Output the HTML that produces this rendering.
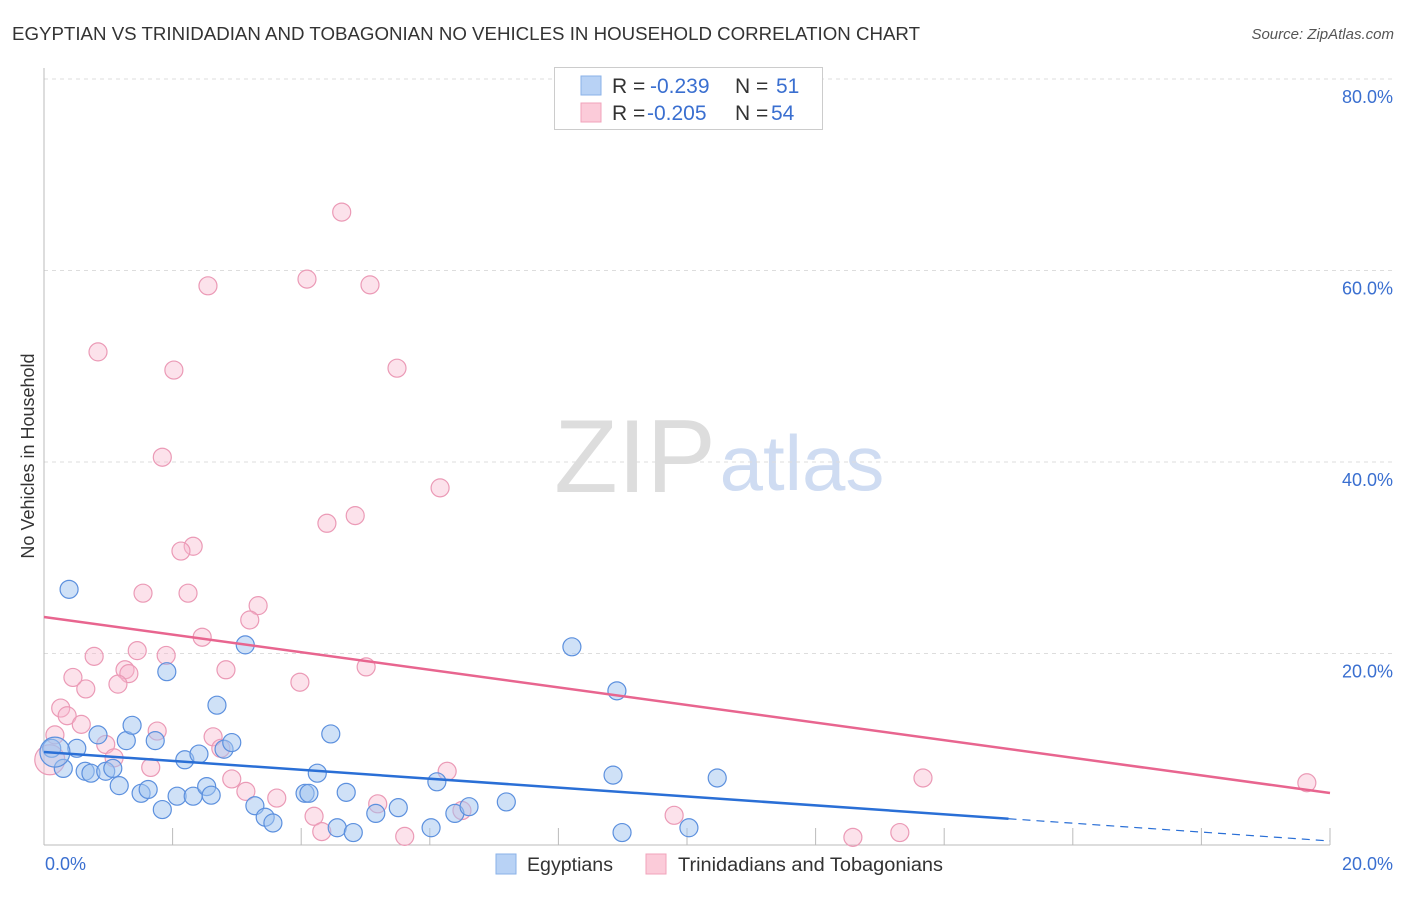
<!DOCTYPE html>
<html><head><meta charset="utf-8"><style>
body{margin:0;background:#fff;font-family:"Liberation Sans",sans-serif}
svg text{font-family:"Liberation Sans",sans-serif}
</style></head><body>
<svg id="chart" width="1406" height="892" xmlns="http://www.w3.org/2000/svg">
<text x="12" y="40" font-size="18" fill="#333" textLength="908" lengthAdjust="spacingAndGlyphs">EGYPTIAN VS TRINIDADIAN AND TOBAGONIAN NO VEHICLES IN HOUSEHOLD CORRELATION CHART</text>
<text x="1394" y="39" font-size="15" fill="#555" font-style="italic" text-anchor="end">Source: ZipAtlas.com</text>
<text x="635" y="492" font-size="104" fill="#ddd" font-family="Liberation Serif" text-anchor="middle">ZIP</text>
<text x="802" y="490" font-size="78" fill="#cfdcf2" text-anchor="middle">atlas</text>
<text transform="translate(34,456) rotate(-90)" font-size="18" fill="#333" text-anchor="middle">No Vehicles in Household</text>
<g id="grid"></g><g id="axes"></g><g id="marks"></g><g id="trends"></g>
<g>
<rect x="554.5" y="67.5" width="268" height="62" fill="#fff" stroke="#ccc"/>
<rect x="581" y="76" width="20" height="19" fill="#b8d2f5" stroke="#8ab2e8"/>
<rect x="581" y="103" width="20" height="19" fill="#fbcbd9" stroke="#f0a3bb"/>
<text y="93" font-size="21"><tspan x="612" fill="#333">R = </tspan><tspan x="650" fill="#3a6fd0">-0.239</tspan><tspan x="735" fill="#333">N = </tspan><tspan x="776" fill="#3a6fd0">51</tspan></text>
<text y="120" font-size="21"><tspan x="612" fill="#333">R = </tspan><tspan x="647" fill="#3a6fd0">-0.205</tspan><tspan x="735" fill="#333">N = </tspan><tspan x="771" fill="#3a6fd0">54</tspan></text>
</g>
<g>
<rect x="496" y="854" width="20" height="20" fill="#b8d2f5" stroke="#8ab2e8"/>
<text x="527" y="871" font-size="19" fill="#333" textLength="86" lengthAdjust="spacingAndGlyphs">Egyptians</text>
<rect x="646" y="854" width="20" height="20" fill="#fbcbd9" stroke="#f0a3bb"/>
<text x="678" y="871" font-size="19" fill="#333" textLength="265" lengthAdjust="spacingAndGlyphs">Trinidadians and Tobagonians</text>
</g>
</svg>
<script>
const yTicks=[20,40,60,80];
const yTickLabels=["20.0%","40.0%","60.0%","80.0%"];
const xTicks=[2,4,6,8,10,12,14,16,18,20];
const blueX=[0.39,0.30,0.12,0.51,0.64,0.73,0.84,0.96,1.07,1.17,1.28,1.37,1.51,1.62,1.73,1.84,1.91,2.07,2.19,2.32,2.41,2.53,2.60,2.69,2.80,2.92,3.13,3.28,3.44,3.56,4.06,4.12,4.25,4.46,4.56,4.70,4.81,5.16,5.51,6.02,6.11,6.39,6.61,7.19,8.21,8.85,8.91,8.99,10.03,10.47,0.17];
const blueY=[26.7,8.0,10.1,10.1,7.7,7.5,11.5,7.7,8.0,6.2,10.9,12.5,5.4,5.8,10.9,3.7,18.1,5.1,8.9,5.1,9.5,6.1,5.2,14.6,10.0,10.7,20.9,4.1,2.9,2.3,5.4,5.4,7.5,11.6,1.8,5.5,1.3,3.3,3.9,1.8,6.6,3.3,4.0,4.5,20.7,7.3,16.1,1.3,1.8,7.0,9.7];
const pinkX=[4.63,4.09,2.55,5.07,0.84,2.02,5.49,1.84,6.16,4.40,4.84,2.32,2.13,1.54,2.24,3.33,3.20,2.46,1.45,1.90,0.78,1.26,1.32,2.83,3.98,5.01,1.15,0.65,0.45,0.26,0.36,0.58,0.17,1.76,0.96,2.63,2.75,1.09,1.66,2.92,3.14,3.62,6.27,4.20,4.32,5.19,5.61,6.50,9.80,12.58,13.31,13.67,19.64,0.09];
const pinkY=[66.1,59.1,58.4,58.5,51.5,49.6,49.8,40.5,37.3,33.6,34.4,31.2,30.7,26.3,26.3,25.0,23.5,21.7,20.3,19.8,19.7,18.3,17.9,18.3,17.0,18.6,16.8,16.3,17.5,14.3,13.5,12.6,11.5,11.9,10.5,11.3,10.1,9.1,8.1,6.9,5.6,4.9,7.7,3.0,1.4,4.3,0.9,3.6,3.1,0.8,1.3,7.0,6.5,8.9];
const blueTrend=[9.71,0.42]; const blueSolidEnd=15.0;
const pinkTrend=[23.81,5.43];
const NS="http://www.w3.org/2000/svg";
const sx=v=>44+v/20*1286, sy=v=>845-v/80*766;
function mk(tag,attrs,parent){const e=document.createElementNS(NS,tag);for(const k in attrs)e.setAttribute(k,attrs[k]);document.getElementById(parent).appendChild(e);return e;}
yTicks.forEach((t,i)=>{
 const g=mk('line',{x1:44,x2:1395,y1:sy(t),y2:sy(t),stroke:'#ddd','stroke-dasharray':'4,4'},'grid');
 
 
 const l=mk('text',{x:1393,y:sy(t)+24,'font-size':18,fill:'#3a6fd0','text-anchor':'end'},'grid');
 l.textContent=yTickLabels[i];
 
 
});
const ya=mk('line',{x1:44,x2:44,y1:68,y2:845,stroke:'#bbb'},'axes');


const xa=mk('line',{x1:44,x2:1330,y1:845,y2:845,stroke:'#bbb'},'axes');


xTicks.forEach(t=>{const e=mk('line',{x1:sx(t),x2:sx(t),y1:828,y2:845,stroke:'#bbb'},'axes');
 
 });
const x0=mk('text',{x:45,y:870,'font-size':18,fill:'#3a6fd0'},'axes');x0.textContent='0.0%';


const x1=mk('text',{x:1393,y:870,'font-size':18,fill:'#3a6fd0','text-anchor':'end'},'axes');x1.textContent='20.0%';


function pts(X,Y,fill,stroke,name){X.forEach((x,i)=>{const big=i===X.length-1;
 const c=mk('circle',{cx:sx(x),cy:sy(Y[i]),r:big?15:9,fill:fill,stroke:stroke,'stroke-width':1.2},'marks');
 
 });}
pts(pinkX,pinkY,'rgba(247,182,204,0.4)','#eb9ab6','point-trinidadian');
pts(blueX,blueY,'rgba(160,196,240,0.5)','#5c90de','point-egyptian');
const bl=v=>blueTrend[0]+(blueTrend[1]-blueTrend[0])*v/20;
const pl=v=>pinkTrend[0]+(pinkTrend[1]-pinkTrend[0])*v/20;
const pt=mk('line',{x1:sx(0),y1:sy(pl(0)),x2:sx(20),y2:sy(pl(20)),stroke:'#e8658f','stroke-width':2.5},'trends');


const bt=mk('line',{x1:sx(0),y1:sy(bl(0)),x2:sx(blueSolidEnd),y2:sy(bl(blueSolidEnd)),stroke:'#2a6fd6','stroke-width':2.5},'trends');


const bd=mk('line',{x1:sx(blueSolidEnd),y1:sy(bl(blueSolidEnd)),x2:sx(20),y2:sy(bl(20)),stroke:'#2a6fd6','stroke-width':1.2,'stroke-dasharray':'8,6'},'trends');


</script>
</body></html>
